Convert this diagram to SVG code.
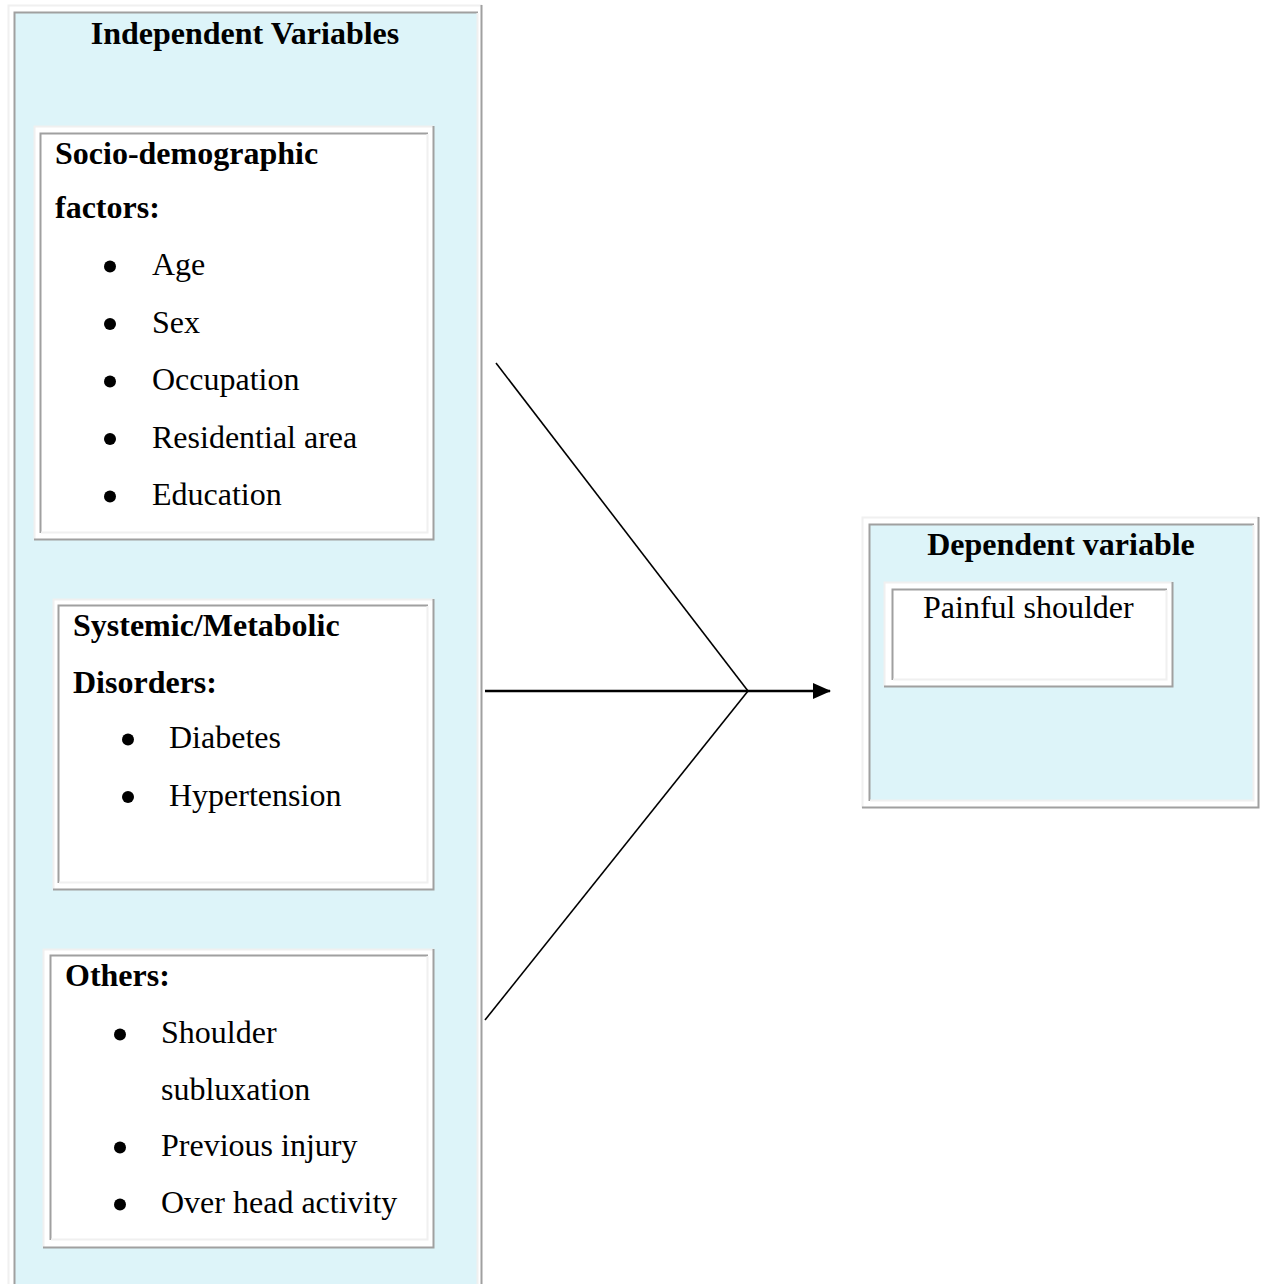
<svg xmlns="http://www.w3.org/2000/svg" width="1266" height="1284" viewBox="0 0 1266 1284">
<style>
.t{font-family:"Liberation Serif","Times New Roman",serif;font-size:32px;fill:#000}
.b{font-weight:bold}
.dk{stroke:#a0a0a0;stroke-width:2;fill:none}
.lt{stroke:#f0f0f0;stroke-width:2;fill:none}
.cy{fill:#ddf4f9}
.wh{fill:#ffffff}
.con{stroke:#000;fill:none}
</style>
<defs>
<marker id="ah" markerWidth="18" markerHeight="16" refX="17" refY="8" orient="auto" markerUnits="userSpaceOnUse">
<path d="M0,0 L18,8 L0,16 Z" fill="#000"/>
</marker>
</defs>
<rect width="1266" height="1284" fill="#fff"/>

<g id="independent">
<rect class="cy" x="15" y="13" width="463" height="1280"/>
<path class="lt" d="M8.5,1290 V5.5 H482"/>
<path class="dk" d="M481.5,5 V1290"/>
<path class="dk" d="M14.5,1290 V12.5 H478"/>
<path class="lt" d="M477.5,13 V1290"/>
<text class="t b" x="245" y="44" text-anchor="middle">Independent Variables</text>
</g>

<g id="socio">
<rect class="wh" x="34" y="126" width="400" height="414"/>
<path class="lt" d="M34.5,540 V126.5 H434"/>
<path class="dk" d="M34,539.5 H433.5 V126"/>
<path class="dk" d="M40.5,533 V133.5 H428"/>
<path class="lt" d="M41,532.5 H427.5 V134"/>
<text class="t b" x="55" y="164">Socio-demographic</text>
<text class="t b" x="55" y="218">factors:</text>
<circle cx="110" cy="266.5" r="6"/><text class="t" x="152" y="275">Age</text>
<circle cx="110" cy="324" r="6"/><text class="t" x="152" y="333">Sex</text>
<circle cx="110" cy="381.5" r="6"/><text class="t" x="152" y="390">Occupation</text>
<circle cx="110" cy="439" r="6"/><text class="t" x="152" y="448">Residential area</text>
<circle cx="110" cy="496.5" r="6"/><text class="t" x="152" y="505">Education</text>
</g>

<g id="systemic">
<rect class="wh" x="53" y="599" width="381" height="291"/>
<path class="lt" d="M53.5,890 V599.5 H434"/>
<path class="dk" d="M53,889.5 H433.5 V599"/>
<path class="dk" d="M58.5,883 V605.5 H428"/>
<path class="lt" d="M59,882.5 H427.5 V606"/>
<text class="t b" x="73" y="636">Systemic/Metabolic</text>
<text class="t b" x="73" y="693">Disorders:</text>
<circle cx="128" cy="739.5" r="6"/><text class="t" x="169" y="748">Diabetes</text>
<circle cx="128" cy="797" r="6"/><text class="t" x="169" y="806">Hypertension</text>
</g>

<g id="others">
<rect class="wh" x="43" y="949" width="391" height="299"/>
<path class="lt" d="M43.5,1248 V949.5 H434"/>
<path class="dk" d="M43,1247.5 H433.5 V949"/>
<path class="dk" d="M50.5,1240 V955.5 H428"/>
<path class="lt" d="M51,1239.5 H427.5 V956"/>
<text class="t b" x="65" y="986">Others:</text>
<circle cx="120" cy="1034.5" r="6"/><text class="t" x="161" y="1043">Shoulder</text>
<text class="t" x="161" y="1100">subluxation</text>
<circle cx="120" cy="1147.5" r="6"/><text class="t" x="161" y="1156">Previous injury</text>
<circle cx="120" cy="1204.5" r="6"/><text class="t" x="161" y="1213">Over head activity</text>
</g>

<g id="dependent">
<rect class="cy" x="869" y="524" width="385" height="277"/>
<path class="lt" d="M862.5,808 V517.5 H1259"/>
<path class="dk" d="M862,807.5 H1258.5 V517"/>
<path class="dk" d="M869.5,801 V524.5 H1254"/>
<path class="lt" d="M870,800.5 H1253.5 V525"/>
<text class="t b" x="1061" y="555" text-anchor="middle">Dependent variable</text>
</g>

<g id="painful">
<rect class="wh" x="884" y="582" width="289" height="105"/>
<path class="lt" d="M884.5,687 V582.5 H1173"/>
<path class="dk" d="M884,686.5 H1172.5 V582"/>
<path class="dk" d="M892.5,680 V589.5 H1167"/>
<path class="lt" d="M893,679.5 H1166.5 V590"/>
<text class="t" x="923" y="618">Painful shoulder</text>
</g>

<g id="connectors">
<line class="con" x1="496" y1="363" x2="748" y2="691" stroke-width="1.6"/>
<line class="con" x1="485" y1="1020" x2="748" y2="691" stroke-width="1.6"/>
<line class="con" x1="485" y1="691" x2="830" y2="691" stroke-width="2.5" marker-end="url(#ah)"/>
</g>
</svg>
